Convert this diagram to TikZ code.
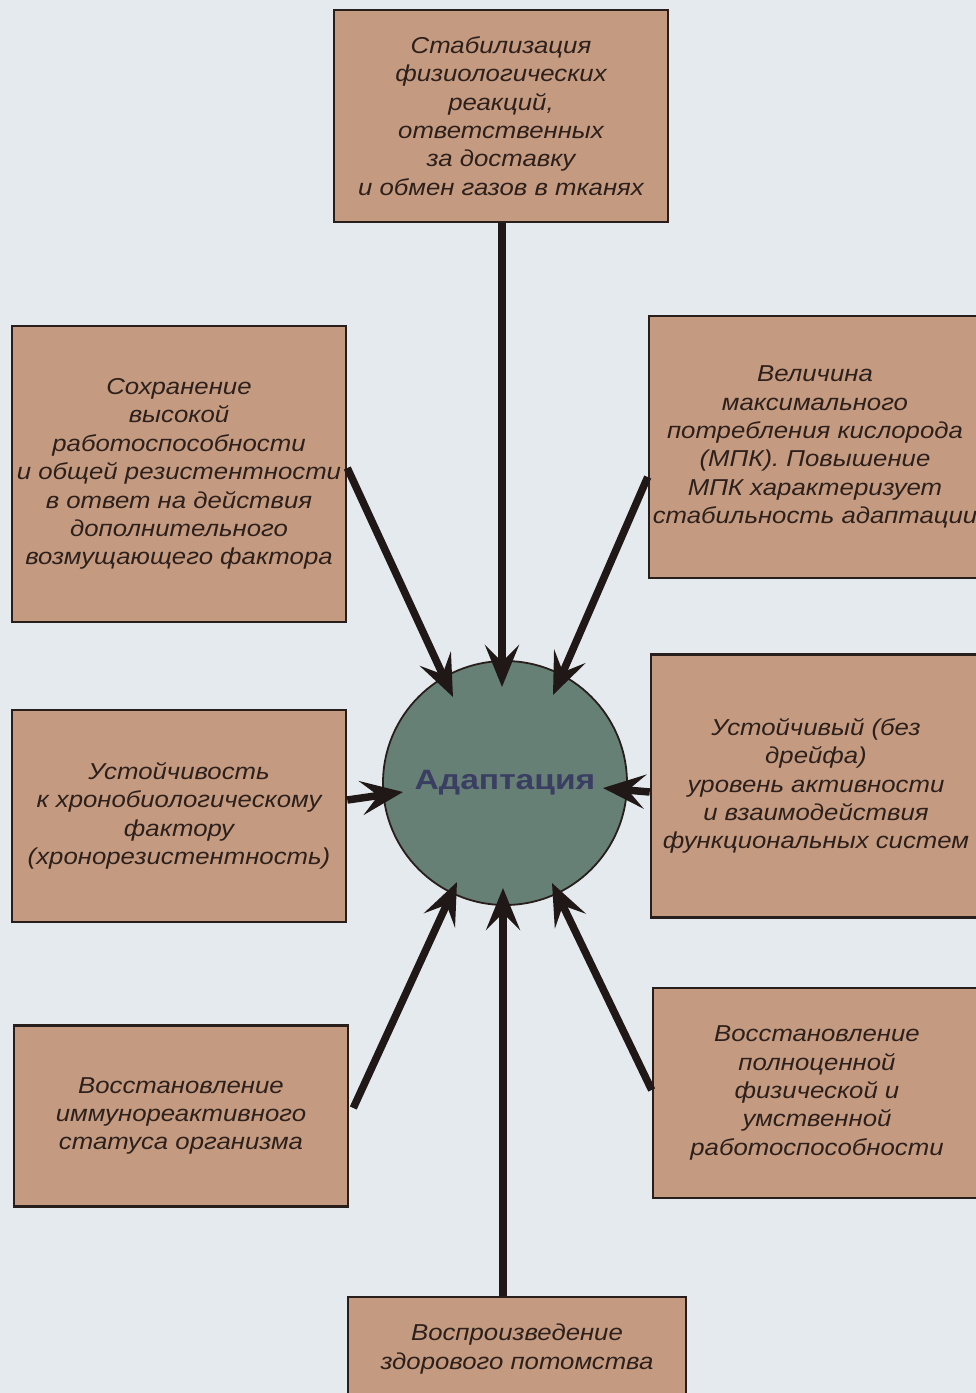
\documentclass[tikz,border=0pt]{standalone}
\usepackage{fontspec}
\setmainfont{Liberation Sans}
\newfontfamily\boxfont[FakeStretch=1.12]{Liberation Sans}
\newfontfamily\adfont[FakeStretch=1.2]{Liberation Sans}
\usetikzlibrary{arrows.meta,calc}
\definecolor{bgcol}{RGB}{229,234,238}
\definecolor{boxfill}{RGB}{196,155,128}
\definecolor{boxline}{RGB}{40,30,28}
\definecolor{circfill}{RGB}{103,128,118}
\definecolor{txtcol}{RGB}{45,32,28}
\definecolor{adcol}{RGB}{58,62,98}
\tikzset{
  x=1pt,y=-1pt,
  infobox/.style={draw=boxline, line width=2.6pt, fill=boxfill, rectangle, inner sep=0pt,
    align=center, text=txtcol, font=\boxfont\itshape\fontsize{23}{28.4}\selectfont},
  conn/.style={draw=boxline!80!black, line width=7.5pt,
    -{Stealth[length=42pt,width=34pt,inset=17pt]}},
}
\begin{document}
\begin{tikzpicture}
\clip (0,0) rectangle (976,1393);
\fill[bgcol] (0,0) rectangle (976,1393);
% centre
\node[circle, draw=boxline, line width=1.8pt, fill=circfill, minimum size=244pt, inner sep=0pt,
  text=adcol, font=\adfont\bfseries\fontsize{28}{30}\selectfont] (circ) at (505,783) {Адаптация};
% boxes
\node[infobox, minimum width=334pt, minimum height=212pt] (top) at (501,116)
  {Стабилизация\\физиологических\\реакций,\\ответственных\\за доставку\\и обмен газов в тканях};
\node[infobox, minimum width=334pt, minimum height=296pt] (l1) at (179,474)
  {Сохранение\\высокой\\работоспособности\\и общей резистентности\\в ответ на действия\\дополнительного\\возмущающего фактора};
\node[infobox, minimum width=332pt, minimum height=262pt] (r1) at (815,447)
  {Величина\\максимального\\потребления кислорода\\(МПК). Повышение\\МПК характеризует\\стабильность адаптации};
\node[infobox, minimum width=334pt, minimum height=212pt] (l2) at (179,816)
  {Устойчивость\\к хронобиологическому\\фактору\\(хронорезистентность)};
\node[infobox, minimum width=330pt, minimum height=263pt] (r2) at (816,786)
  {Устойчивый (без\\дрейфа)\\уровень активности\\и взаимодействия\\функциональных систем};
\node[infobox, minimum width=334pt, minimum height=181pt] (l3) at (181,1116)
  {Восстановление\\иммунореактивного\\статуса организма};
\node[infobox, minimum width=328pt, minimum height=210pt] (r3) at (817,1093)
  {Восстановление\\полноценной\\физической и\\умственной\\работоспособности};
\node[infobox, minimum width=338pt, minimum height=104pt] (bot) at (517,1349)
  {Воспроизведение\\здорового потомства};
% arrow tips
\coordinate (tT)  at (502,687);
\coordinate (tTL) at (453,697);
\coordinate (tTR) at (553,695);
\coordinate (tL)  at (403,792);
\coordinate (tR)  at (603,788);
\coordinate (tBL) at (457,882);
\coordinate (tB)  at (503,888);
\coordinate (tBR) at (552,883);
% connectors
\draw[conn] (top.south -| tT) -- (tT);
\draw[conn] ([yshift=6pt]l1.east) -- (tTL);
\draw[conn] ([yshift=-30pt]r1.west) -- (tTR);
\draw[conn] ([yshift=16pt]l2.east) -- (tL);
\draw[conn] ([yshift=-6pt]r2.west) -- (tR);
\draw[conn] ([xshift=4pt,yshift=8pt]l3.east) -- (tBL);
\draw[conn] (bot.north -| tB) -- (tB);
\draw[conn] ([yshift=3pt]r3.west) -- (tBR);
\end{tikzpicture}
\end{document}
